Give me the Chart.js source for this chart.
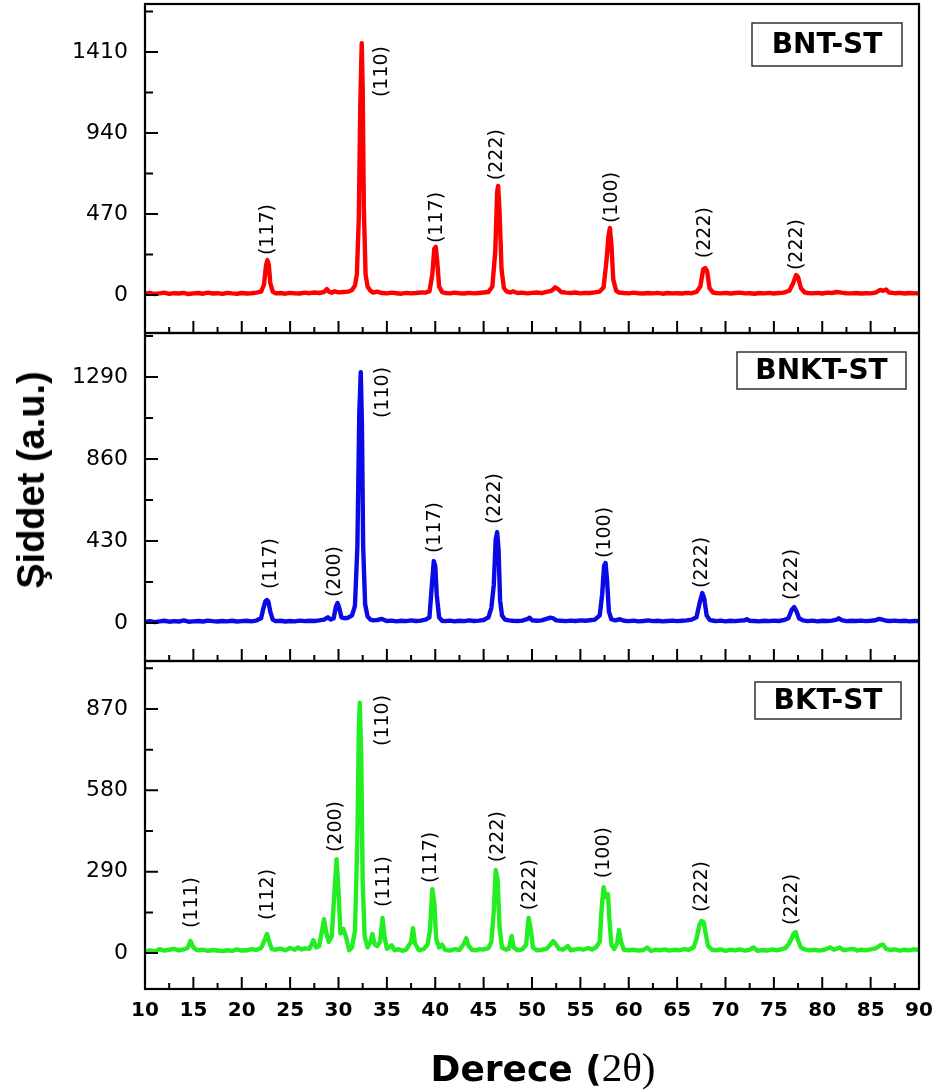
<!DOCTYPE html>
<html>
<head>
<meta charset="utf-8">
<script src="https://cdn.jsdelivr.net/npm/chart.js@4.4.1/dist/chart.umd.min.js"></script>
<style>
html,body{margin:0;padding:0;background:#fff;}
body{width:939px;height:1092px;overflow:hidden;position:relative;}
canvas{position:absolute;left:0;}
#ytitle{position:absolute;left:31px;top:480px;transform:translate(-50%,-50%) rotate(-90deg);font:bold 38px "Liberation Sans",Arial,sans-serif;white-space:nowrap;color:#000;line-height:1;}
#xtitle{position:absolute;left:543px;top:1043px;transform:translateX(-50%);white-space:nowrap;color:#000;line-height:1;}
#xtitle .s{font:bold 36px "DejaVu Sans",sans-serif;}
#xtitle .m{font:41px "Liberation Serif","DejaVu Serif",serif;}
</style>
</head>
<body>
<canvas id="c1" width="939" height="340" style="top:0px"></canvas>
<canvas id="c2" width="939" height="340" style="top:330px"></canvas>
<canvas id="c3" width="939" height="437" style="top:655px"></canvas>
<div id="ytitle">Şiddet (a.u.)</div>
<div id="xtitle"><span class="s">Derece (</span><span class="m">2θ)</span></div>
<script>
// ---------- shared x axis (2θ, degrees) ----------
const degreeTicks = [10,15,20,25,30,35,40,45,50,55,60,65,70,75,80,85,90];

// ---------- BNT-ST (red) ----------
const bntName = 'BNT-ST';
const bntTicks = [0, 470, 940, 1410];
const bntPoints = [[10,8],[10.5,12],[11,6],[11.5,10],[12,14],[12.5,7],[13,11],[13.5,9],[14,13],[14.5,6],[15,10],[15.5,12],[16,8],[16.5,14],[17,9],[17.5,11],[18,7],[18.5,13],[19,10],[19.5,8],[20,12],[20.5,9],[21,11],[21.5,14],[22,20],
[22.3,60],[22.5,170],[22.65,203],[22.8,175],[22.95,70],[23.2,20],[23.5,10],
[24,12],[24.5,8],[25,13],[25.5,10],[26,9],[26.5,14],[27,11],[27.5,15],[28,12],[28.5,18],[28.8,35],[29.0,20],[29.3,14],[29.6,22],[30,16],[30.5,18],[31,20],[31.4,30],[31.7,55],[31.9,120],[32.1,450],[32.25,1100],[32.4,1462],[32.5,1200],[32.62,500],[32.8,120],[33.0,50],[33.3,25],[33.6,15],[34,20],[34.5,12],[35,10],[35.5,14],[36,11],[36.5,8],[37,13],[37.5,10],[38,12],[38.5,15],[39,14],[39.4,22],[39.7,120],[39.9,270],[40.05,280],[40.2,200],[40.4,50],[40.7,18],[41,12],[41.5,10],[42,14],[42.5,11],[43,9],[43.5,13],[44,10],[44.5,12],[45,15],[45.5,18],[45.9,50],[46.2,250],[46.4,600],[46.5,633],[46.65,480],[46.85,150],[47.1,40],[47.4,20],[47.8,15],[48,22],[48.5,12],[49,14],[49.5,10],[50,13],[50.5,15],[51,11],[51.5,18],[52,25],[52.4,45],[52.7,35],[53,18],[53.5,14],[54,12],[54.5,15],[55,10],[55.5,13],[56,12],[56.5,16],[57,20],[57.4,45],[57.7,200],[57.9,340],[58.05,390],[58.2,300],[58.4,90],[58.7,25],[59,15],[59.5,12],[60,10],[60.5,14],[61,11],[61.5,9],[62,12],[62.5,10],[63,13],[63.5,8],[64,12],[64.5,10],[65,11],[65.5,9],[66,13],[66.5,11],[67,18],[67.4,50],[67.7,150],[67.9,157],[68.1,140],[68.35,40],[68.7,15],[69,12],[69.5,10],[70,13],[70.5,9],[71,12],[71.5,14],[72,10],[72.5,11],[73,8],[73.5,12],[74,10],[74.5,13],[75,9],[75.5,12],[76,14],[76.6,25],[77.0,70],[77.3,116],[77.5,105],[77.8,40],[78.2,15],[78.5,12],[79,10],[79.5,13],[80,9],[80.5,14],[81,12],[81.5,18],[82,14],[82.5,11],[83,10],[83.5,12],[84,9],[84.5,11],[85,10],[85.5,14],[86.0,30],[86.3,25],[86.6,32],[86.9,15],[87.5,11],[88,13],[88.5,9],[89,12],[89.5,10],[90,11]];
const bntLabelText = ['(117)','(110)','(117)','(222)','(100)','(222)','(222)'];
const bntLabelX = [22.7, 34.5, 40.2, 46.4, 58.3, 67.9, 77.4];
const bntLabelY = [232, 1149, 302, 667, 418, 214, 145];

// ---------- BNKT-ST (blue) ----------
const bnktName = 'BNKT-ST';
const bnktTicks = [0, 430, 860, 1290];
const bnktPoints = [[10,6],[10.5,10],[11,5],[11.5,9],[12,12],[12.5,7],[13,10],[13.5,8],[14,14],[14.5,7],[15,9],[15.5,11],[16,8],[16.5,13],[17,10],[17.5,8],[18,11],[18.5,9],[19,12],[19.5,8],[20,10],[20.5,12],[21,9],[21.5,13],[22,25],
[22.2,70],[22.45,115],[22.6,121],[22.75,112],[22.95,60],[23.2,18],[23.5,10],[24,12],[24.5,8],[25,11],[25.5,9],[26,13],[26.5,10],[27,12],[27.5,11],[28,14],[28.5,18],[28.9,30],[29.2,18],[29.5,25],[29.75,90],[29.9,105],[30.05,85],[30.3,30],[30.6,25],[31,28],[31.4,40],[31.7,90],[31.95,400],[32.15,1100],[32.3,1316],[32.42,1050],[32.55,400],[32.75,100],[33.0,35],[33.3,18],[33.6,14],[34,16],[34.5,22],[34.8,14],[35,11],[35.5,13],[36,9],[36.5,12],[37,10],[37.5,14],[38,11],[38.5,13],[39,18],[39.4,30],[39.65,200],[39.85,325],[40.0,300],[40.15,150],[40.4,30],[40.7,12],[41,10],[41.5,13],[42,9],[42.5,12],[43,10],[43.5,14],[44,11],[44.5,13],[45,16],[45.5,30],[45.8,80],[46.05,200],[46.25,440],[46.4,477],[46.55,380],[46.7,120],[46.9,40],[47.2,18],[47.6,14],[48,12],[48.5,11],[49,13],[49.5,20],[49.75,28],[50,15],[50.5,12],[51,14],[51.5,22],[51.9,28],[52.2,25],[52.5,14],[53,12],[53.5,10],[54,13],[54.5,11],[55,14],[55.5,12],[56,15],[56.5,18],[57,40],[57.25,150],[57.45,300],[57.6,315],[57.75,230],[57.95,60],[58.2,20],[58.6,14],[59.1,20],[59.5,12],[60,10],[60.5,13],[61,9],[61.5,11],[62,14],[62.5,10],[63,12],[63.5,9],[64,11],[64.5,13],[65,10],[65.5,12],[66,14],[66.5,18],[67.0,30],[67.35,110],[67.6,157],[67.8,130],[68.05,40],[68.4,15],[68.8,12],[69,10],[69.5,13],[70,9],[70.5,12],[71,10],[71.5,13],[72,15],[72.2,20],[72.5,12],[73,11],[73.5,9],[74,12],[74.5,10],[75,13],[75.5,11],[76,15],[76.5,25],[76.85,70],[77.1,84],[77.35,60],[77.6,25],[78,14],[78.5,10],[79,13],[79.5,9],[80,12],[80.5,11],[81,13],[81.5,18],[81.7,25],[82,15],[82.5,10],[83,12],[83.5,11],[84,13],[84.5,10],[85,12],[85.5,15],[85.9,22],[86.2,18],[86.6,12],[87,11],[87.5,13],[88,10],[88.5,12],[89,9],[89.5,11],[90,10]];
const bnktLabelText = ['(117)','(200)','(110)','(117)','(222)','(100)','(222)','(222)'];
const bnktLabelX = [23.0, 29.6, 34.6, 40.0, 46.2, 57.5, 67.6, 76.9];
const bnktLabelY = [178, 136, 1075, 367, 519, 341, 184, 121];

// ---------- BKT-ST (green) ----------
const bktName = 'BKT-ST';
const bktTicks = [0, 290, 580, 870];
const bktPoints = [[10,5],[10.5,10],[11,6],[11.5,14],[12,9],[12.5,12],[13,15],[13.5,10],[14,13],[14.4,18],[14.7,43],[15.0,20],[15.4,10],[16,12],[16.5,8],[17,11],[17.5,9],[18,7],[18.5,10],[19,8],[19.5,13],[20,9],[20.5,10],[21,14],[21.5,11],[22,18],[22.35,45],[22.6,68],[22.85,40],[23.1,14],[23.5,12],[24,16],[24.5,10],[25,18],[25.5,12],[25.8,20],[26.2,13],[26.5,17],[27,15],[27.4,46],[27.7,20],[28.0,25],[28.3,80],[28.5,121],[28.75,70],[29.0,40],[29.3,60],[29.55,200],[29.8,335],[30.0,220],[30.2,70],[30.5,86],[30.8,55],[31.1,10],[31.4,20],[31.7,80],[31.95,400],[32.1,800],[32.2,892],[32.35,700],[32.5,250],[32.7,60],[33.0,20],[33.3,40],[33.5,68],[33.75,30],[34.0,25],[34.3,40],[34.55,125],[34.75,60],[35.0,15],[35.5,28],[35.8,10],[36.2,14],[36.6,8],[37.0,12],[37.5,40],[37.7,89],[37.9,35],[38.3,10],[38.8,14],[39.2,30],[39.45,80],[39.7,228],[39.9,180],[40.1,50],[40.4,20],[40.7,30],[41.0,12],[41.5,9],[42,14],[42.5,11],[43.0,35],[43.2,53],[43.45,25],[43.8,12],[44.2,10],[44.6,14],[45,13],[45.5,18],[45.8,40],[46.05,150],[46.25,296],[46.45,260],[46.65,90],[46.9,20],[47.3,12],[47.6,15],[47.9,61],[48.1,20],[48.5,10],[49,13],[49.4,30],[49.65,125],[49.85,90],[50.1,20],[50.5,10],[51,12],[51.5,15],[51.9,30],[52.2,43],[52.5,30],[52.8,15],[53.2,12],[53.7,25],[54.0,10],[54.5,13],[54.9,15],[55.3,12],[55.8,18],[56.2,13],[56.6,20],[57.0,40],[57.2,160],[57.4,235],[57.6,200],[57.85,210],[58.0,120],[58.2,30],[58.5,15],[58.8,35],[59.0,82],[59.2,40],[59.5,12],[60,10],[60.5,12],[61,9],[61.5,11],[61.9,20],[62.3,8],[62.8,12],[63.2,10],[63.7,13],[64.2,9],[64.7,12],[65.2,10],[65.7,14],[66.2,12],[66.7,20],[67.0,50],[67.3,100],[67.5,114],[67.75,110],[67.95,70],[68.2,25],[68.6,12],[69,10],[69.5,13],[70,8],[70.5,12],[71,10],[71.5,13],[72,9],[72.5,12],[72.9,20],[73.3,8],[73.8,11],[74.3,9],[74.8,13],[75.3,10],[75.8,14],[76.2,18],[76.5,30],[76.8,50],[77.05,70],[77.25,75],[77.5,45],[77.8,20],[78.2,13],[78.7,10],[79.2,12],[79.7,9],[80.2,12],[80.8,20],[81.2,12],[81.8,20],[82.2,10],[82.7,13],[83.2,15],[83.6,9],[84,12],[84.5,10],[85,13],[85.6,18],[86.0,28],[86.3,30],[86.6,15],[87,11],[87.5,13],[88,9],[88.5,12],[89,10],[89.5,13],[90,11]];
const bktLabelText = ['(111)','(112)','(200)','(110)','(111)','(117)','(222)','(222)','(100)','(222)','(222)'];
const bktLabelX = [14.9, 22.7, 29.7, 34.6, 34.7, 39.6, 46.5, 49.8, 57.4, 67.6, 76.9];
const bktLabelY = [89, 118, 360, 738, 164, 250, 324, 153, 267, 146, 100];

// ---------- drawing helpers ----------
const decorPlugin = {
  id: 'decor',
  afterDatasetsDraw(chart, args, o) {
    const ctx = chart.ctx, a = chart.chartArea, xs = chart.scales.x, ys = chart.scales.y;
    ctx.save();
    // frame
    ctx.strokeStyle = '#000';
    ctx.lineWidth = 2.2;
    ctx.strokeRect(a.left, a.top, a.right - a.left, a.bottom - a.top);
    // inward x ticks (major every 5, minor between)
    ctx.lineWidth = 2;
    ctx.beginPath();
    for (let i = 0; i < degreeTicks.length; i++) {
      const v = degreeTicks[i];
      const px = xs.getPixelForValue(v);
      ctx.moveTo(px, a.bottom); ctx.lineTo(px, a.bottom - 12);
      if (i < degreeTicks.length - 1) {
        const m = xs.getPixelForValue((v + degreeTicks[i + 1]) / 2);
        ctx.moveTo(m, a.bottom); ctx.lineTo(m, a.bottom - 6);
      }
    }
    // inward y ticks
    const t = o.ticks, half = (t[1] - t[0]) / 2;
    for (let v = Math.ceil(ys.min / half) * half; v <= ys.max; v += half) {
      const py = ys.getPixelForValue(v);
      const major = t.indexOf(v) >= 0;
      ctx.moveTo(a.left, py); ctx.lineTo(a.left + (major ? 13 : 8), py);
    }
    ctx.stroke();
    // peak labels (rotated)
    ctx.fillStyle = '#000';
    ctx.font = '19px "DejaVu Sans", sans-serif';
    ctx.textAlign = 'left';
    ctx.textBaseline = 'middle';
    for (let i = 0; i < o.texts.length; i++) {
      const px = xs.getPixelForValue(o.lx[i]);
      const py = ys.getPixelForValue(o.ly[i]);
      ctx.save();
      ctx.translate(px, py);
      ctx.rotate(-Math.PI / 2);
      ctx.fillText(o.texts[i], 0, 0);
      ctx.restore();
    }
    // sample name box
    const b = o.box;
    const bx = a.right - b.right, by = a.top + b.top;
    ctx.lineWidth = 1.5;
    ctx.strokeStyle = '#333';
    ctx.strokeRect(bx - b.w, by, b.w, b.h);
    ctx.font = 'bold 28px "DejaVu Sans", sans-serif';
    ctx.textAlign = 'center';
    ctx.textBaseline = 'middle';
    ctx.fillStyle = '#000';
    ctx.fillText(o.name, bx - b.w / 2, by + b.h / 2 + 1);
    ctx.restore();
  }
};

function makePanel(id, points, color, ticks, yMin, yMax, texts, lx, ly, name, box, showX, padding) {
  return new Chart(document.getElementById(id), {
    type: 'line',
    data: {
      datasets: [{
        data: points.map(p => ({x: p[0], y: p[1]})),
        borderColor: color,
        borderWidth: 4.4,
        pointRadius: 0,
        tension: 0,
        borderJoinStyle: 'round',
        fill: false
      }]
    },
    options: {
      responsive: false,
      animation: false,
      layout: {padding: padding, autoPadding: false},
      plugins: {
        legend: {display: false},
        tooltip: {enabled: false},
        decor: {ticks: ticks, texts: texts, lx: lx, ly: ly, name: name, box: box}
      },
      scales: {
        x: {
          type: 'linear',
          min: 10, max: 90,
          display: showX,
          afterBuildTicks: s => { s.ticks = degreeTicks.map(v => ({value: v})); },
          afterFit: s => {
            s.height = showX ? 40 : 0;
            s.paddingLeft = 0; s.paddingRight = 0;
          },
          grid: {display: false, drawTicks: false},
          border: {display: false},
          ticks: {
            autoSkip: false, maxRotation: 0, padding: 10, color: '#000',
            font: {family: '"DejaVu Sans", sans-serif', size: 20, weight: 'bold'},
            callback: v => String(v)
          }
        },
        y: {
          type: 'linear',
          min: yMin, max: yMax,
          afterBuildTicks: s => { s.ticks = ticks.map(v => ({value: v})); },
          afterFit: s => {
            s.width = 145;
            s.paddingTop = 0; s.paddingBottom = 0;
          },
          grid: {display: false, drawTicks: false},
          border: {display: false},
          ticks: {
            padding: 17, color: '#000',
            font: {family: '"DejaVu Sans", sans-serif', size: 22},
            callback: v => String(v)
          }
        }
      }
    },
    plugins: [decorPlugin]
  });
}

makePanel('c1', bntPoints, '#ff0000', bntTicks, -220, 1689,
  bntLabelText, bntLabelX, bntLabelY, bntName,
  {right: 17, top: 19, w: 150, h: 43}, false, {left: 0, right: 20, top: 4, bottom: 7});
makePanel('c2', bnktPoints, '#0a0ae6', bnktTicks, -199, 1521,
  bnktLabelText, bnktLabelX, bnktLabelY, bnktName,
  {right: 13, top: 19, w: 169, h: 37}, false, {left: 0, right: 20, top: 3, bottom: 9});
makePanel('c3', bktPoints, '#22ee22', bktTicks, -128, 1041,
  bktLabelText, bktLabelX, bktLabelY, bktName,
  {right: 18, top: 21, w: 146, h: 37}, true, {left: 0, right: 20, top: 6, bottom: 63});
</script>
</body>
</html>
